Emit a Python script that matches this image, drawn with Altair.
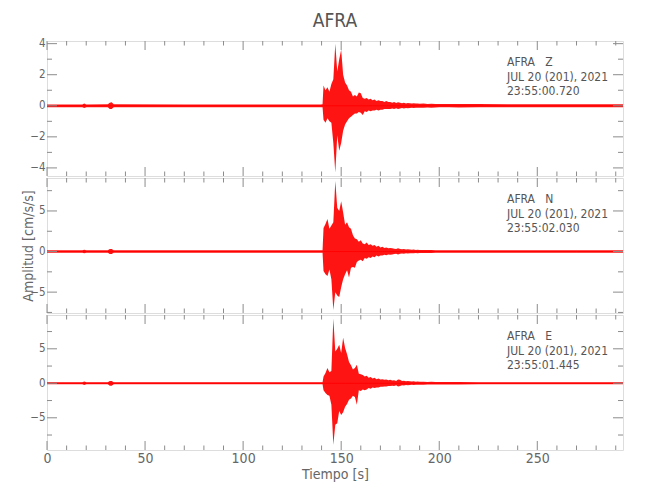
import altair as alt
import pandas as pd

FONT = "Liberation Sans Narrow, DejaVu Sans Condensed, Liberation Sans, sans-serif"
RED = "#ff0000"
GRAY = "#8c8c8c"
W, H = 576, 135

# time knots (s)
T = [0, 18, 19, 20, 31, 32, 33, 34, 70, 110, 139.5, 140.5,
     141, 142, 143, 144, 145, 146, 147, 148, 149, 150,
     151, 152, 153, 154, 155, 156, 157, 158, 159, 160,
     161, 162, 163, 164, 165, 166, 167, 168, 169, 170,
     171, 172, 173, 174, 175, 176, 177, 178, 179, 180,
     181, 182, 183, 184, 185, 186, 187, 188, 189, 190,
     192, 194, 196, 198, 200, 205, 210, 220, 235, 250, 270, 293.7]

# Z component envelope (cm/s/s)
Z_HI = [0.09, 0.09, 0.14, 0.09, 0.1, 0.2, 0.22, 0.1, 0.09, 0.09, 0.09, 0.1,
        1.3, 1.0, 1.2, 0.9, 1.4, 1.7, 4.0, 2.2, 3.0, 3.6,
        2.0, 1.5, 1.3, 1.0, 0.9, 0.6, 0.7, 0.6, 0.85, 0.8,
        0.5, 0.45, 0.5, 0.4, 0.45, 0.35, 0.4, 0.3, 0.35, 0.3,
        0.3, 0.25, 0.3, 0.25, 0.25, 0.2, 0.25, 0.18, 0.22, 0.2,
        0.17, 0.2, 0.15, 0.18, 0.16, 0.15, 0.17, 0.14, 0.15, 0.13,
        0.14, 0.12, 0.13, 0.12, 0.12, 0.11, 0.12, 0.11, 0.1, 0.1, 0.1, 0.1]
Z_LO = [-0.09, -0.09, -0.14, -0.09, -0.1, -0.2, -0.2, -0.1, -0.09, -0.09, -0.09, -0.1,
        -0.9, -1.1, -0.8, -1.0, -1.1, -2.4, -4.3, -1.9, -2.9, -2.4,
        -1.6, -1.2, -1.0, -0.8, -0.7, -0.6, -0.5, -0.5, -0.4, -0.45,
        -0.6, -0.35, -0.4, -0.3, -0.35, -0.3, -0.3, -0.25, -0.3, -0.25,
        -0.25, -0.2, -0.2, -0.2, -0.2, -0.18, -0.2, -0.16, -0.2, -0.17,
        -0.15, -0.17, -0.14, -0.16, -0.14, -0.13, -0.15, -0.12, -0.13, -0.12,
        -0.12, -0.11, -0.12, -0.11, -0.1, -0.1, -0.11, -0.1, -0.1, -0.1, -0.1, -0.1]

# N component envelope
N_HI = [0.15, 0.15, 0.22, 0.15, 0.15, 0.3, 0.3, 0.15, 0.15, 0.15, 0.15, 0.15,
        2.9, 3.4, 4.0, 2.8, 3.2, 3.6, 8.7, 5.4, 5.0, 6.2,
        4.8, 3.3, 3.6, 3.0, 2.8, 2.0, 1.6, 1.5, 1.2, 1.4,
        1.0, 0.9, 1.1, 0.8, 0.9, 0.7, 0.8, 0.6, 0.7, 0.5,
        0.6, 0.45, 0.5, 0.4, 0.45, 0.4, 0.35, 0.3, 0.4, 0.3,
        0.28, 0.32, 0.25, 0.28, 0.24, 0.22, 0.25, 0.2, 0.22, 0.2,
        0.2, 0.18, 0.19, 0.17, 0.17, 0.16, 0.16, 0.15, 0.15, 0.15, 0.15, 0.15]
N_LO = [-0.15, -0.15, -0.22, -0.15, -0.15, -0.3, -0.3, -0.15, -0.15, -0.15, -0.15, -0.15,
        -2.4, -2.8, -3.0, -2.2, -3.4, -7.2, -5.0, -5.4, -5.6, -4.4,
        -3.4, -2.8, -2.3, -3.2, -2.0, -1.9, -2.0, -1.3, -1.1, -1.0,
        -1.2, -0.8, -0.9, -0.7, -0.8, -0.6, -0.7, -0.5, -0.6, -0.5,
        -0.5, -0.4, -0.45, -0.35, -0.4, -0.35, -0.3, -0.28, -0.35, -0.28,
        -0.25, -0.28, -0.22, -0.25, -0.2, -0.2, -0.22, -0.18, -0.2, -0.18,
        -0.18, -0.17, -0.17, -0.16, -0.16, -0.15, -0.15, -0.15, -0.15, -0.15, -0.15, -0.15]

# E component envelope
E_HI = [0.15, 0.15, 0.25, 0.15, 0.15, 0.35, 0.35, 0.15, 0.15, 0.15, 0.15, 0.15,
        1.0, 1.5, 2.2, 1.6, 1.8, 9.4, 4.6, 5.0, 5.6, 4.4,
        6.6, 5.1, 4.2, 3.1, 2.6, 2.0, 2.2, 2.7, 1.4, 1.3,
        1.2, 1.0, 1.1, 0.8, 0.9, 0.7, 0.8, 0.6, 0.7, 0.55,
        0.6, 0.5, 0.55, 0.45, 0.5, 0.4, 0.45, 0.35, 0.55, 0.5,
        0.35, 0.38, 0.3, 0.33, 0.28, 0.26, 0.3, 0.24, 0.26, 0.22,
        0.22, 0.2, 0.21, 0.19, 0.18, 0.17, 0.17, 0.16, 0.16, 0.16, 0.16, 0.16]
E_LO = [-0.15, -0.15, -0.25, -0.15, -0.15, -0.35, -0.35, -0.15, -0.15, -0.15, -0.15, -0.15,
        -1.0, -1.4, -1.7, -1.8, -3.1, -8.9, -6.0, -5.8, -4.0, -4.6,
        -4.2, -3.4, -3.0, -2.4, -2.2, -1.8, -2.0, -3.1, -1.0, -1.1,
        -0.9, -1.0, -0.9, -0.7, -0.8, -0.6, -0.7, -0.6, -0.6, -0.5,
        -0.5, -0.45, -0.45, -0.4, -0.4, -0.35, -0.4, -0.3, -0.45, -0.4,
        -0.3, -0.32, -0.26, -0.28, -0.24, -0.22, -0.25, -0.2, -0.22, -0.2,
        -0.2, -0.18, -0.19, -0.17, -0.17, -0.16, -0.16, -0.15, -0.15, -0.15, -0.15, -0.15]

X_DOMAIN = [0, 293.7]
X_MAJOR = [0, 50, 100, 150, 200, 250]
X_MINOR = [10, 20, 30, 40, 60, 70, 80, 90, 110, 120, 130, 140, 160, 170, 180, 190,
           210, 220, 230, 240, 260, 270, 280, 290]

PANELS = [
    dict(hi=Z_HI, lo=Z_LO, dom=[-4.52, 4.17], major=[-4, -2, 0, 2, 4], minor=[-3, -1, 1, 3],
         label=["AFRA\u00a0\u00a0\u00a0Z", "JUL 20 (201), 2021", "23:55:00.720"]),
    dict(hi=N_HI, lo=N_LO, dom=[-7.57, 9.06], major=[-5, 0, 5], minor=[-7.5, -2.5, 2.5, 7.5],
         label=["AFRA\u00a0\u00a0\u00a0N", "JUL 20 (201), 2021", "23:55:02.030"]),
    dict(hi=E_HI, lo=E_LO, dom=[-9.67, 9.9], major=[-5, 0, 5], minor=[-7.5, -2.5, 2.5, 7.5],
         label=["AFRA\u00a0\u00a0\u00a0E", "JUL 20 (201), 2021", "23:55:01.445"]),
]

xs = alt.Scale(domain=X_DOMAIN, nice=False, zero=False)


def panel(i, p):
    ys = alt.Scale(domain=p["dom"], nice=False, zero=False)
    df = pd.DataFrame({"t": T, "hi": p["hi"], "lo": p["lo"]})
    last = i == 2
    if last:
        xaxis = alt.Axis(values=X_MAJOR, ticks=False, domain=False, grid=False,
                         labelFont=FONT, labelFontSize=14, labelColor="#666",
                         labelPadding=1, title="Tiempo [s]", titleFont=FONT,
                         titleFontSize=14, titleColor="#666", titleFontWeight="normal",
                         titlePadding=2, labelFlush=False)
    else:
        xaxis = None
    yaxis = alt.Axis(values=p["major"], ticks=False, domain=False, grid=False,
                     labelFont=FONT, labelFontSize=11.5, labelColor="#666",
                     labelPadding=2, labelFlush=False,
                     title="Amplitud [cm/s/s]" if i == 1 else None,
                     titleFont=FONT, titleFontSize=14, titleColor="#666",
                     titleFontWeight="normal", titlePadding=-6)

    trace = alt.Chart(df).mark_area(color=RED, opacity=0.92, clip=True).encode(
        x=alt.X("t:Q", scale=xs, axis=xaxis),
        y=alt.Y("hi:Q", scale=ys, axis=yaxis),
        y2="lo:Q",
    )
    center = alt.Chart(df).mark_line(color=RED, strokeWidth=1, clip=True).encode(
        x=alt.X("t:Q", scale=xs, axis=xaxis),
        y=alt.datum(0, scale=ys, axis=yaxis),
    )

    xmaj = pd.DataFrame({"v": X_MAJOR})
    xmin = pd.DataFrame({"v": X_MINOR})
    ymaj = pd.DataFrame({"v": p["major"]})
    ymin = pd.DataFrame({"v": p["minor"]})

    def xticks(d, ln):
        top = alt.Chart(d).mark_rule(color=GRAY, strokeWidth=1).encode(
            x=alt.X("v:Q", scale=xs, axis=xaxis), y=alt.value(0), y2=alt.value(ln))
        bot = alt.Chart(d).mark_rule(color=GRAY, strokeWidth=1).encode(
            x=alt.X("v:Q", scale=xs, axis=xaxis), y=alt.value(H), y2=alt.value(H - ln))
        return [top, bot]

    def yticks(d, ln):
        lft = alt.Chart(d).mark_rule(color=GRAY, strokeWidth=1).encode(
            y=alt.Y("v:Q", scale=ys, axis=yaxis), x=alt.value(0), x2=alt.value(ln))
        rgt = alt.Chart(d).mark_rule(color=GRAY, strokeWidth=1).encode(
            y=alt.Y("v:Q", scale=ys, axis=yaxis), x=alt.value(W), x2=alt.value(W - ln))
        return [lft, rgt]

    txt = alt.Chart(pd.DataFrame({"a": [0]})).mark_text(
        font=FONT, fontSize=12, color="#555", align="left", baseline="alphabetic",
        lineHeight=14.5,
    ).encode(x=alt.value(460), y=alt.value(25), text=alt.value(p["label"]))

    layers = [trace, center] + xticks(xmaj, 9) + xticks(xmin, 4.5) + \
        yticks(ymaj, 10) + yticks(ymin, 5) + [txt]
    ch = alt.layer(*layers).properties(width=W, height=H)
    if i == 0:
        ch = ch.properties(title=alt.TitleParams(
            "AFRA", font=FONT, fontSize=19, color="#555", fontWeight="normal",
            anchor="middle", frame="group", offset=7))
    return ch


chart = alt.vconcat(*[panel(i, p) for i, p in enumerate(PANELS)], spacing=0).properties(
    padding={"left": 13, "top": 3, "right": 10, "bottom": 10}
).configure_view(stroke=GRAY, strokeWidth=1).configure(background="white")

chart.save("out.html", embed_options={"renderer": "svg", "actions": False})
